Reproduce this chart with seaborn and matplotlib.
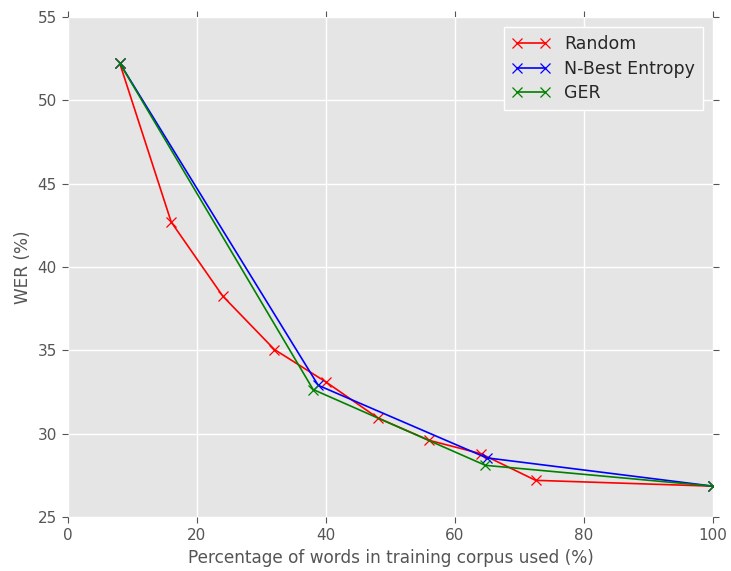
import matplotlib
matplotlib.use("Agg")
import matplotlib.pyplot as plt
import seaborn as sns
import pandas as pd

random_x = [8, 16, 24, 32, 40, 48, 56, 64, 72.5, 100]
random_y = [52.25, 42.7, 38.25, 35.05, 33.1, 30.95, 29.6, 28.8, 27.2, 26.85]
nbest_x = [8, 38.8, 64.9, 100]
nbest_y = [52.25, 32.9, 28.55, 26.85]
ger_x = [8, 38.0, 64.7, 100]
ger_y = [52.25, 32.65, 28.1, 26.85]

series = [("Random", random_x, random_y, "red"),
          ("N-Best Entropy", nbest_x, nbest_y, "blue"),
          ("GER", ger_x, ger_y, "green")]

sns.set_theme(style="darkgrid")
plt.rcParams.update({
    "axes.facecolor": "#E5E5E5",
    "grid.color": "white",
    "grid.linewidth": 1.0,
    "axes.edgecolor": "white",
    "axes.linewidth": 0,
    "xtick.color": "#555555",
    "ytick.color": "#555555",
    "axes.labelcolor": "#555555",
    "xtick.bottom": True, "xtick.top": True,
    "ytick.left": True, "ytick.right": True,
    "xtick.direction": "out", "ytick.direction": "out",
    "xtick.major.size": 4, "ytick.major.size": 4,
    "xtick.major.width": 0.8, "ytick.major.width": 0.8,
    "font.family": ["DejaVu Sans"],
})

fig = plt.figure(figsize=(7.31, 5.71), dpi=100)
ax = fig.add_axes([68/731, 1 - 517/571, (713-68)/731, (517-17)/571])

for name, xs, ys, c in series:
    df = pd.DataFrame({"x": xs, "y": ys})
    sns.lineplot(data=df, x="x", y="y", ax=ax, color=c, marker="x",
                 markersize=7, markeredgewidth=0.9, markeredgecolor=c,
                 linewidth=1.2, label=name, sort=False, estimator=None)

ax.set_xlim(0, 100)
ax.set_ylim(25, 55)
ax.set_xticks([0, 20, 40, 60, 80, 100])
ax.set_yticks([25, 30, 35, 40, 45, 50, 55])
ax.tick_params(labelsize=11, pad=4)
ax.set_xlabel("Percentage of words in training corpus used (%)", fontsize=12.2)
ax.set_ylabel("WER (%)", fontsize=12.2)
for s in ax.spines.values():
    s.set_visible(False)

leg = ax.legend(loc="upper right", numpoints=2, fontsize=12.5, frameon=True,
                fancybox=False, facecolor="#E5E5E5", edgecolor="white",
                framealpha=1, handlelength=2.2, borderpad=0.45, labelspacing=0.38,
                borderaxespad=0.6)
leg.get_frame().set_linewidth(1.0)

fig.savefig("out.png", dpi=100)
